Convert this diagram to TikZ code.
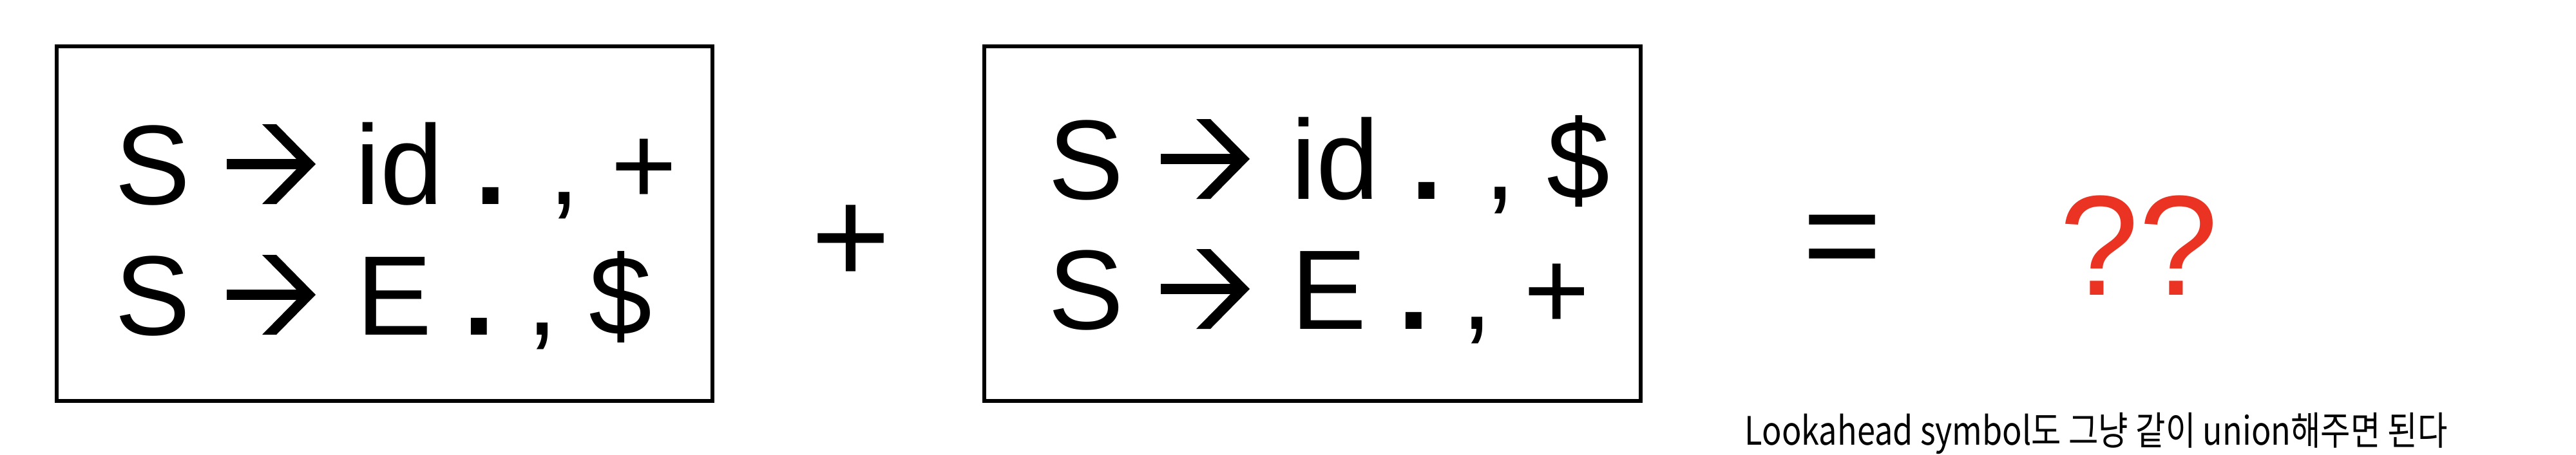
\documentclass[tikz,border=0pt]{standalone}
\usepackage{fontspec}
\setmainfont{Liberation Sans}
\newfontfamily\krfont{Noto Sans CJK KR}
\usepackage{graphicx}
\usepackage{xcolor}
\usepackage{tikz}
\usetikzlibrary{positioning}
\definecolor{qred}{RGB}{234,51,35}
\newcommand{\itemdot}{\textbf{.}}
\tikzset{
    itembox/.style={draw, line width=1.7pt},
    prod/.style={inner sep=0pt, anchor=base west, font=\fontsize{50}{60}\selectfont},
    opsym/.style={inner sep=0pt, font=\fontsize{60}{72}\selectfont},
    prodarrow/.pic={
        \fill (0,0.54) rectangle (1.22,0.70);
        \fill (0.55,1.24) -- (0.77,1.24) -- (1.38,0.62) -- (0.77,0) -- (0.55,0) -- (1.16,0.62) -- cycle;
    }
}

\begin{document}
\begin{tikzpicture}
    \useasboundingbox (0,0) rectangle (39.99,7.06);

    % Define points
    \coordinate (A1) at (1.78,3.89);
    \coordinate (A2) at (1.78,1.86);
    \coordinate (B1) at (16.27,3.97);
    \coordinate (B2) at (16.27,1.95);

    % Boxes
    \draw[itembox] (0.88,0.83) rectangle (11.06,6.34);
    \draw[itembox] (15.28,0.83) rectangle (25.47,6.34);

    % First item set
    \node[prod] (a1l) at (A1) {S};
    \pic at ([xshift=1.74cm]A1) {prodarrow};
    \node[prod] (a1r) at ([xshift=3.73cm]A1) {id \itemdot{} , +};
    \node[prod] (a2l) at (A2) {S};
    \pic at ([xshift=1.74cm]A2) {prodarrow};
    \node[prod] (a2r) at ([xshift=3.75cm]A2) {E \itemdot{} , \$};

    % Second item set
    \node[prod] (b1l) at (B1) {S};
    \pic at ([xshift=1.75cm]B1) {prodarrow};
    \node[prod] (b1r) at ([xshift=3.77cm]B1) {id \itemdot{} , \$};
    \node[prod] (b2l) at (B2) {S};
    \pic at ([xshift=1.75cm]B2) {prodarrow};
    \node[prod] (b2r) at ([xshift=3.77cm]B2) {E \itemdot{} , +};

    % Operators and result
    \node[opsym] (plus) at (13.21,3.26) {+};
    \node[opsym] (eq) at (28.60,3.20) {=};
    \node[inner sep=0pt, anchor=base west, text=qred, font=\fontsize{63}{75}\selectfont] (res) at (31.97,2.48) {??};

    % Note
    \node[inner sep=0pt, anchor=base west, font=\krfont\fontsize{17.3}{20}\selectfont] (note) at (27.08,0.15)
        {\resizebox{10.91cm}{\height}{Lookahead symbol도 그냥 같이 union해주면 된다}};
\end{tikzpicture}
\end{document}
